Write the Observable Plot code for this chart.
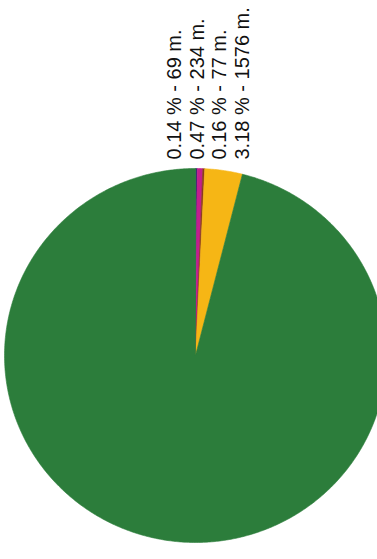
<!DOCTYPE html>
<html>
<head>
<meta charset="utf-8">
<script src="https://cdn.jsdelivr.net/npm/d3@7"></script>
<script src="https://cdn.jsdelivr.net/npm/@observablehq/plot@0.6"></script>
<style>
  html, body { margin: 0; padding: 0; background: #fff; }
  #chart svg { display: block; }
</style>
</head>
<body>
<div id="chart"></div>
<script>
// Slices, clockwise from 12 o'clock
const sliceNames = ["a", "b", "c", "d", "e"];
const slicePercents = [0.14, 0.47, 0.16, 3.18, 96.05];
const sliceColors = ["#1d2f6f", "#c21f8c", "#8a3b1c", "#f6b615", "#2c7d3b"];
const labelTexts = ["0.14 % - 69 m.", "0.47 % - 234 m.", "0.16 % - 77 m.", "3.18 % - 1576 m."];

const total = d3.sum(slicePercents);
let acc = 0;
const polys = [];
sliceNames.forEach((name, i) => {
  const a0 = acc / total * 2 * Math.PI;
  acc += slicePercents[i];
  const a1 = acc / total * 2 * Math.PI;
  const steps = Math.max(2, Math.ceil((a1 - a0) * 180 / Math.PI * 2));
  polys.push({name, x: 0, y: 0});
  for (let k = 0; k <= steps; k++) {
    const a = a0 + (a1 - a0) * k / steps;
    polys.push({name, x: Math.sin(a), y: Math.cos(a)});
  }
  polys.push({name, x: 0, y: 0});
});

const labelMarks = labelTexts.map((t, i) =>
  Plot.text([t], {
    x: () => 0, y: () => 1, text: d => d,
    rotate: -90, textAnchor: "start", lineAnchor: "middle",
    dx: -21 + i * 22.6, dy: -9,
    fontSize: 20, fontFamily: "Liberation Sans, Arial, sans-serif", fill: "#111"
  })
);

const chart = Plot.plot({
  width: 377,
  height: 559,
  margin: 0,
  style: {background: "#fff"},
  x: {domain: [-1, 1], range: [4, 386], axis: null},
  y: {domain: [-1, 1], range: [542, 168], axis: null},
  color: {domain: sliceNames, range: sliceColors},
  marks: [
    Plot.line(polys, {x: "x", y: "y", z: "name", fill: "name", stroke: "name", strokeWidth: 0.6, curve: "linear"}),
    ...labelMarks
  ]
});
document.getElementById("chart").appendChild(chart);
</script>
</body>
</html>
